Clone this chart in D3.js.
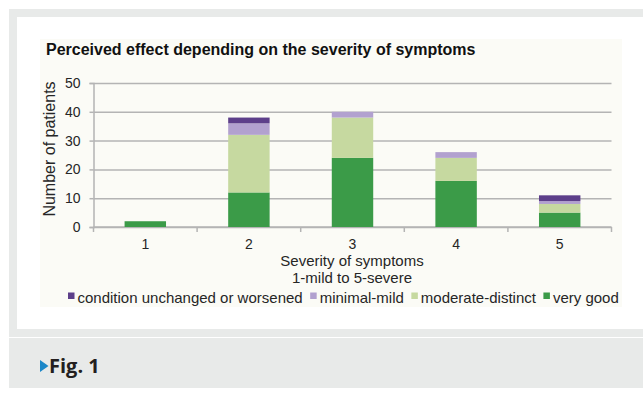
<!DOCTYPE html>
<html>
<head>
<meta charset="utf-8">
<script src="https://cdn.jsdelivr.net/npm/d3@7"></script>
<style>
  html, body { margin: 0; padding: 0; background: #ffffff; }
  svg { display: block; }
  text { font-family: "Liberation Sans", Arial, sans-serif; fill: #262626; }
</style>
</head>
<body>
<svg id="fig" width="643" height="397"></svg>
<script>
// Severity levels (x categories)
const categories = ["1", "2", "3", "4", "5"];

// Patient counts per rating, per severity level
const veryGood  = [2, 12, 24, 16, 5];
const moderate  = [0, 20, 14, 8, 3];
const minimal   = [0, 4, 2, 2, 1];
const unchanged = [0, 2, 0, 0, 2];

// Series names, listed bottom-to-top of each stack
const seriesNames = ["very good", "moderate-distinct", "minimal-mild", "condition unchanged or worsened"];
const seriesColors = ["#3b9b48", "#c6d9a0", "#b2a1cf", "#5d3f8a"];

// Legend order (left to right)
const legendOrder = ["condition unchanged or worsened", "minimal-mild", "moderate-distinct", "very good"];

const yTicks = [0, 10, 20, 30, 40, 50];

const titleText = "Perceived effect depending on the severity of symptoms";
const yTitle = "Number of patients";
const xTitleLines = ["Severity of symptoms", "1-mild to 5-severe"];
const figLabel = "Fig. 1";

const svg = d3.select("#fig");

// ---- figure frame ----
svg.append("rect").attr("x", 9).attr("y", 9).attr("width", 634).attr("height", 328).attr("fill", "#e8eae9");
svg.append("rect").attr("x", 17).attr("y", 17).attr("width", 626).attr("height", 312).attr("fill", "#ffffff");
svg.append("rect").attr("x", 40).attr("y", 39).attr("width", 582).attr("height", 268).attr("fill", "#fbfbf6");
svg.append("rect").attr("x", 9).attr("y", 338).attr("width", 634).attr("height", 50).attr("fill", "#e8eae9");

// caption
svg.append("polygon").attr("points", "40,360 40,372 48.5,366").attr("fill", "#1b87c8");
svg.append("text").attr("x", 49).attr("y", 373)
  .style("font-family", "'Open Sans', sans-serif").style("font-weight", 700)
  .style("font-size", "20px").style("fill", "#231f20")
  .text(figLabel);

// ---- chart title ----
svg.append("text").attr("x", 46).attr("y", 55)
  .style("font-size", "16px").style("font-weight", 700).style("fill", "#111")
  .text(titleText);

// ---- scales ----
const x0 = 93.5, x1 = 611.5;
const x = d3.scaleBand().domain(categories).range([x0, x1]).paddingInner(0.6).paddingOuter(0.3);
const y = d3.scaleLinear().domain([0, 50]).range([227, 83]);

// ---- grid lines ----
const grid = svg.append("g").attr("transform", `translate(${x0},0)`)
  .call(d3.axisLeft(y).tickValues(yTicks).tickSize(-(x1 - x0)).tickFormat(""));
grid.select(".domain").remove();
grid.selectAll("line").attr("stroke", "#b4b4b4").attr("stroke-width", 1.5);

// ---- y axis ----
const yAxis = svg.append("g").attr("transform", `translate(${x0},0)`)
  .call(d3.axisLeft(y).tickValues(yTicks).tickSize(4).tickPadding(9));
yAxis.select(".domain").attr("stroke", "#b4b4b4").attr("stroke-width", 1.5);
yAxis.selectAll("line").attr("stroke", "#b4b4b4").attr("stroke-width", 1.5);
yAxis.selectAll("text").style("font-size", "14px").style("font-family", "'Liberation Sans', Arial, sans-serif").attr("fill", "#262626");

// ---- x axis ----
const xAxis = svg.append("g").attr("transform", `translate(0,${y(0)})`)
  .call(d3.axisBottom(x).tickSize(0).tickPadding(12));
xAxis.select(".domain").remove();
xAxis.selectAll("text").style("font-size", "14px").style("font-family", "'Liberation Sans', Arial, sans-serif").attr("fill", "#262626");

svg.append("line").attr("x1", x0).attr("x2", x1).attr("y1", y(0)).attr("y2", y(0))
  .attr("stroke", "#b4b4b4").attr("stroke-width", 1.5);
const step = x.step();
svg.append("g").selectAll("line").data(d3.range(categories.length + 1)).join("line")
  .attr("x1", i => x0 + i * step).attr("x2", i => x0 + i * step)
  .attr("y1", y(0)).attr("y2", y(0) + 5)
  .attr("stroke", "#b4b4b4").attr("stroke-width", 1.5);

// ---- stacked bars ----
const rows = categories.map((c, i) => ({
  cat: c,
  "very good": veryGood[i],
  "moderate-distinct": moderate[i],
  "minimal-mild": minimal[i],
  "condition unchanged or worsened": unchanged[i]
}));
const stacked = d3.stack().keys(seriesNames)(rows);
const color = d3.scaleOrdinal().domain(seriesNames).range(seriesColors);

svg.append("g").selectAll("g").data(stacked).join("g")
  .attr("fill", s => color(s.key))
  .selectAll("rect").data(s => s).join("rect")
  .attr("x", d => x(d.data.cat))
  .attr("width", x.bandwidth())
  .attr("y", d => y(d[1]))
  .attr("height", d => y(d[0]) - y(d[1]));

// ---- axis titles ----
svg.append("text")
  .attr("transform", "translate(55,149) rotate(-90)")
  .attr("text-anchor", "middle")
  .style("font-size", "16px")
  .text(yTitle);

svg.append("g").selectAll("text").data(xTitleLines).join("text")
  .attr("x", 352).attr("y", (d, i) => 266 + i * 16.5)
  .attr("text-anchor", "middle")
  .style("font-size", "15px")
  .text(d => d);

// ---- legend ----
const legend = svg.append("g");
let lx = 68;
legendOrder.forEach(name => {
  legend.append("rect").attr("x", lx).attr("y", 292.5).attr("width", 6.5).attr("height", 6.5).attr("fill", color(name));
  const t = legend.append("text").attr("x", lx + 9.5).attr("y", 302.5).style("font-size", "15px").text(name);
  lx += 9.5 + t.node().getComputedTextLength() + 7.5;
});
</script>
</body>
</html>
